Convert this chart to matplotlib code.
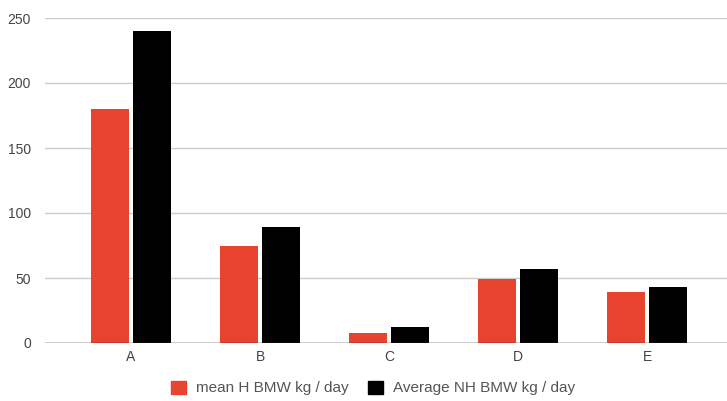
import matplotlib
matplotlib.use("Agg")
import matplotlib.pyplot as plt
import numpy as np
from matplotlib.patches import Patch

categories = ["A", "B", "C", "D", "E"]
mean_h = [180, 75, 8, 49, 39]
avg_nh = [240, 89, 12, 57, 43]
series_names = ["mean H BMW kg / day", "Average NH BMW kg / day"]
yticks = [0, 50, 100, 150, 200, 250]

plt.rcParams['font.family'] = ['Liberation Sans', 'DejaVu Sans']
fig = plt.figure(figsize=(7.27, 4.01), dpi=100)
ax = fig.add_axes([45/727, 58/401, (727-45)/727, 325/401])

x = np.arange(len(categories))
w = 0.30
off = 0.163
ax.bar(x - off, mean_h, w, color="#e8432f", zorder=3)
ax.bar(x + off, avg_nh, w, color="#000000", zorder=3)

ax.set_ylim(0, 250)
ax.set_xlim(-0.667, 4.62)
ax.set_yticks(yticks)
ax.set_xticks(x)
ax.set_xticklabels(categories)
ax.tick_params(length=0, labelsize=10, colors="#444444")
ax.tick_params(axis='y', pad=10)
ax.tick_params(axis='x', pad=5)
for s in ax.spines.values():
    s.set_visible(False)
ax.grid(axis='y', color="#cccccc", linewidth=1, zorder=0)
ax.axhline(0, color="#333333", linewidth=1, zorder=4)

handles = [Patch(color="#e8432f"), Patch(color="#000000")]
fig.legend(handles, series_names, loc="center", bbox_to_anchor=(373/727, 1 - 388/401),
           ncol=2, frameon=False, fontsize=11, handlelength=0.95, handleheight=0.95,
           columnspacing=1.3, handletextpad=0.65, labelcolor="#555555")

fig.savefig("out.png", dpi=100)
